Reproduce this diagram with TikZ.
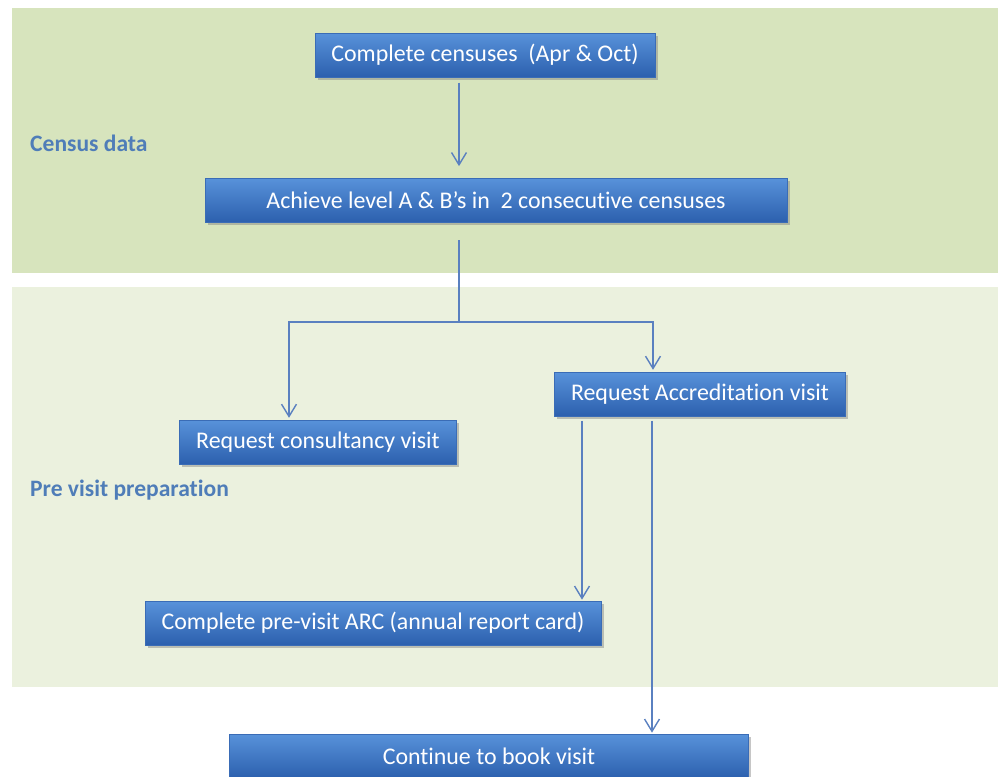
\documentclass[tikz,border=0pt]{standalone}
\usepackage{fontspec}
\setmainfont{Carlito}[Ligatures=NoCommon]
\usepackage{tikz}
\usetikzlibrary{arrows.meta,positioning,calc,shadows}

\definecolor{bandtop}{HTML}{D7E4BD}
\definecolor{bandlow}{HTML}{EBF1DE}
\definecolor{boxtop}{HTML}{5892DA}
\definecolor{boxbot}{HTML}{2C60AE}
\definecolor{boxline}{HTML}{3A6CB6}
\definecolor{flowline}{HTML}{5A80C0}
\definecolor{headtxt}{HTML}{4F7DB8}

\tikzset{
    stepbox/.style={rectangle, draw=boxline, line width=0.5pt, top color=boxtop, bottom color=boxbot,
        text=white, font=\fontsize{13.6}{16}\selectfont, minimum height=0.88cm, inner sep=0pt,
        drop shadow={shadow xshift=1.5pt, shadow yshift=-1.5pt, opacity=0.45}},
    flow/.style={draw=flowline, line width=0.8pt, -{Straight Barb[length=7pt,width=8.5pt]}},
    plain/.style={draw=flowline, line width=0.8pt},
    stage/.style={anchor=west, text=headtxt, font=\fontsize{13.4}{16}\selectfont\bfseries}
}

\begin{document}
\begin{tikzpicture}[x=0.02cm,y=-0.02cm]
    \useasboundingbox (0,0) rectangle (998,777);
    %\draw[step=50,help lines] (0,0) grid (998,777);

    % background bands
    \fill[bandtop] (12,8) rectangle (998,273);
    \fill[bandlow] (12,287) rectangle (998,687);
    \node[stage] (census) at (24,143) {Census data};
    \node[stage] (previsit) at (24,490) {Pre visit preparation};

    \node[stepbox, minimum width=6.8cm] (censuses) at (485,55) {Complete censuses\ \ (Apr \& Oct)};
    \node[stepbox, minimum width=11.64cm] (level) at (496,200) {Achieve level A \& B’s in\ \ 2 consecutive censuses};
    \node[stepbox, minimum width=5.54cm] (consult) at (318,442) {Request consultancy visit};
    \node[stepbox, minimum width=5.82cm] (accred) at (700,394) {Request Accreditation visit};
    \node[stepbox, minimum width=9.12cm] (arc) at (373,623) {Complete pre-visit ARC (annual report card)};
    \node[stepbox, minimum width=10.38cm] (book) at (489,756) {Continue to book visit};

    \coordinate (split) at (459,322);
    \coordinate (splitL) at (289,322);
    \coordinate (splitR) at (653,322);
    \coordinate (downA) at (582,0);
    \coordinate (downB) at (652,0);

    \draw[flow, shorten <=3pt, shorten >=6.5pt] (censuses.south -| split) to (level.north -| split);
    \draw[plain, shorten <=10pt] (level.south -| split) to (split);
    \draw[flow, shorten >=1pt] (split) -- (splitL) -- (consult.north -| splitL);
    \draw[flow, shorten >=1pt] (split) -- (splitR) -- (accred.north -| splitR);
    \draw[flow, shorten <=2.5pt, shorten >=0.5pt] (accred.south -| downA) to (arc.north -| downA);
    \draw[flow, shorten <=2.5pt, shorten >=0.5pt] (accred.south -| downB) to (book.north -| downB);

\end{tikzpicture}
\end{document}
